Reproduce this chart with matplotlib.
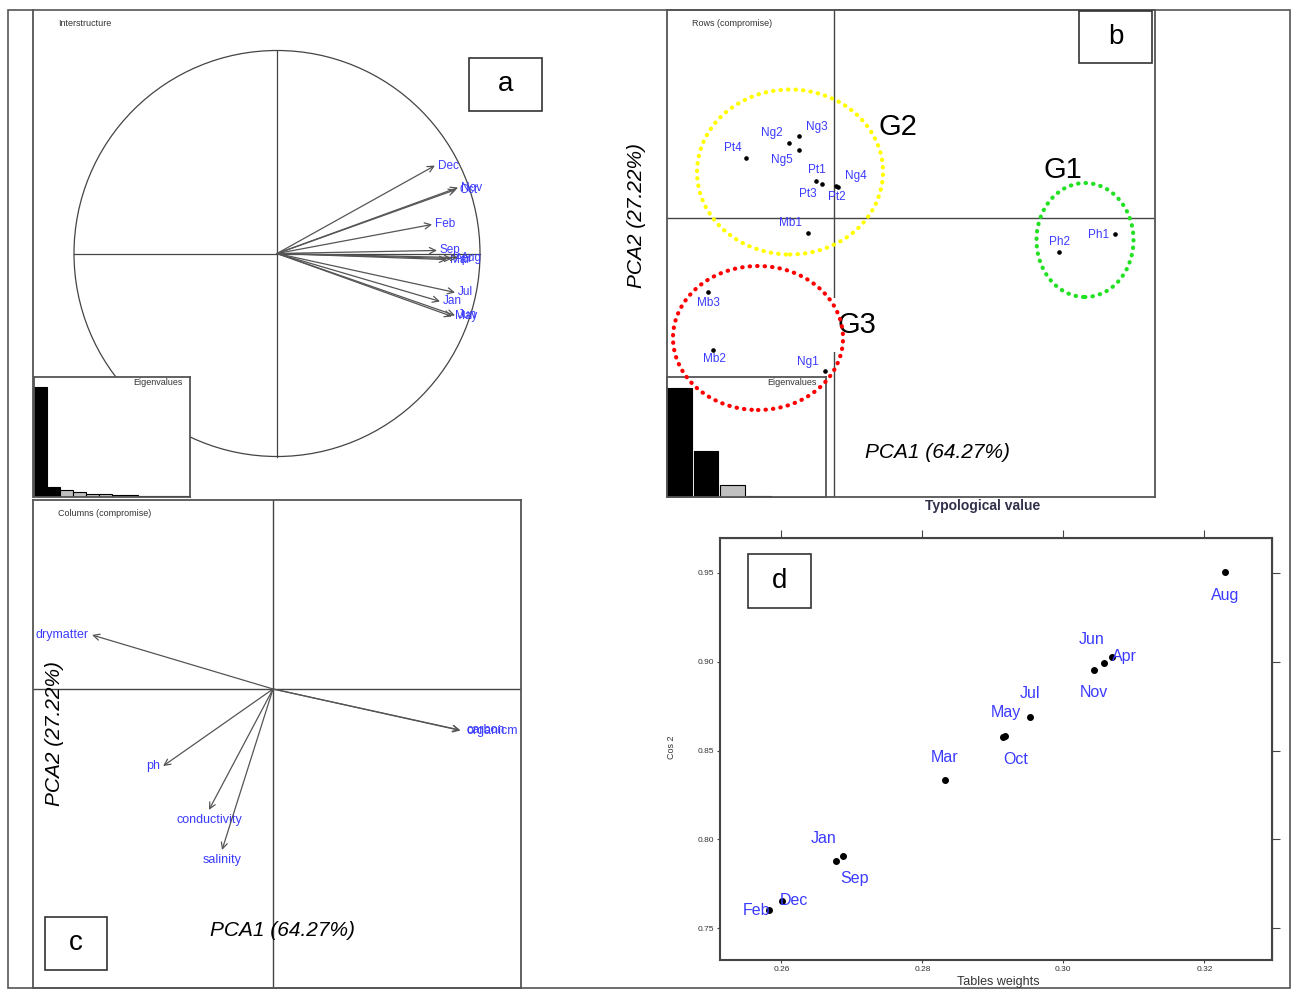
import matplotlib
matplotlib.use('Agg')
import matplotlib.pyplot as plt
from matplotlib.patches import Rectangle, Ellipse, Circle

plt.rcParams['font.family'] = ['Liberation Sans', 'DejaVu Sans']

# --- data ---
# a: interstructure (month vectors on the unit circle)
inter_names = ['Dec', 'Oct', 'Nov', 'Feb', 'Sep', 'Mar', 'Apr', 'Aug', 'Jul', 'Jan', 'May', 'Jun']
inter_x = [0.778, 0.882, 0.892, 0.764, 0.788, 0.837, 0.862, 0.892, 0.877, 0.803, 0.862, 0.877]
inter_y = [0.433, 0.315, 0.325, 0.143, 0.015, -0.030, -0.025, -0.020, -0.192, -0.236, -0.310, -0.305]
inter_eig = [110, 10, 7, 5, 3.5, 3.5, 2, 2, 1.2, 1, 0.8, 0.6]

# b: rows (compromise)
row_names = ['Ng3', 'Ng2', 'Ng5', 'Pt4', 'Pt1', 'Pt3', 'Ng4', 'Pt2', 'Mb1', 'Mb3', 'Mb2', 'Ng1', 'Ph1', 'Ph2']
row_x = [-0.35, -0.45, -0.35, -0.88, -0.18, -0.12, 0.02, 0.04, -0.26, -1.26, -1.21, -0.09, 2.81, 2.25]
row_y = [0.82, 0.75, 0.68, 0.60, 0.37, 0.34, 0.32, 0.31, -0.15, -0.74, -1.32, -1.53, -0.16, -0.34]
row_eig = [109, 46, 12, 1.5, 0.4, 0.2]

# c: columns (compromise)
col_names = ['drymatter', 'ph', 'conductivity', 'salinity', 'carbon', 'organicm']
col_x = [-0.754, -0.458, -0.267, -0.2125, 0.779, 0.781]
col_y = [0.225, -0.321, -0.504, -0.671, -0.171, -0.173]

# d: typological value
d_names = ['Aug', 'Apr', 'Jun', 'Nov', 'Jul', 'May', 'Oct', 'Mar', 'Sep', 'Jan', 'Dec', 'Feb']
d_weight = [0.3230, 0.3069, 0.3057, 0.3043, 0.2953, 0.2917, 0.2915, 0.2832, 0.2687, 0.2677, 0.2601, 0.2582]
d_cos2 = [0.9504, 0.9028, 0.8994, 0.8956, 0.8689, 0.8584, 0.8578, 0.8333, 0.7906, 0.7878, 0.7654, 0.7600]

# label placement (pixel offsets, image y downwards)
row_off = [(18, -9), (-17, -10), (-17, 10), (-13, -10), (1, -11), (-14, 10), (20, -10),
           (-1, 10), (-17, -10), (0, 11), (1, 9), (-17, -9), (-16, 1), (1, -10)]
d_off = [(0, 23), (12, 0), (-12, -23), (0, 23), (0, -23), (1, -23), (12, 23),
         (0, -23), (12, 23), (-12, -22), (12, 0), (-12, 0)]

W, H = 1296, 990
BLUE = '#3b3bff'
LINE = '#444444'

fig = plt.figure(figsize=(12.96, 9.9), dpi=100)


def rect(x0, y0, x1, y1):
	return [x0 / W, 1 - y1 / H, (x1 - x0) / W, (y1 - y0) / H]


def ftext(x, y, s, **kw):
	fig.text(x / W, 1 - y / H, s, **kw)


def letter_box(s, x0, y0, x1, y1):
	fig.add_artist(Rectangle((x0 / W, 1 - y1 / H), (x1 - x0) / W, (y1 - y0) / H,
		transform=fig.transFigure, facecolor='white', edgecolor='#333333', lw=1.2, zorder=5))
	ftext((x0 + x1) / 2, (y0 + y1) / 2, s, ha='center', va='center', fontsize=20, zorder=6)


def plain(ax, spines=('left', 'right', 'top', 'bottom')):
	ax.set_xticks([])
	ax.set_yticks([])
	for k, sp in ax.spines.items():
		sp.set_visible(k in spines)
		sp.set_color('#555555')
		sp.set_linewidth(1.3)


def eigen_inset(box, values, nblack, width):
	ax = fig.add_axes(rect(*box))
	plain(ax)
	cols = ['black' if i < nblack else '#c0c0c0' for i in range(len(values))]
	ax.bar(range(len(values)), values, width=width, align='edge', color=cols,
		edgecolor='black', linewidth=0.8)
	ax.set_xlim(0, len(values))
	ax.set_ylim(0, 120)
	return ax


# outer frame
fig.add_artist(Rectangle((8 / W, 1 - 988 / H), 1282 / W, 978 / H, transform=fig.transFigure,
	fill=False, edgecolor='#555555', lw=1.2))

# ---------- panel a ----------
ax_a = fig.add_axes(rect(33, 10, 521, 497))
plain(ax_a, spines=('left',))
ax_a.set_xlim(-244 / 203, 244 / 203)
ax_a.set_ylim(-243.5 / 203, 243.5 / 203)
ax_a.add_patch(Circle((0, 0), 1, fill=False, edgecolor=LINE, lw=0.9))
ax_a.plot([-1, 1], [0, 0], color=LINE, lw=0.9)
ax_a.plot([0, 0], [-1, 1], color=LINE, lw=0.9)
for name, x, y in zip(inter_names, inter_x, inter_y):
	ax_a.annotate('', xy=(x, y), xytext=(0, 0),
		arrowprops=dict(arrowstyle='->', color='#555555', lw=0.9, shrinkA=0, shrinkB=0, mutation_scale=11))
	ax_a.annotate(name, xy=(x, y), xytext=(3, 0), textcoords='offset pixels',
		ha='left', va='center', color=BLUE, fontsize=8.5)
ftext(58, 23, 'Interstructure', fontsize=6.5, color='#333333', va='center')
eigen_inset((34, 377, 190, 497), inter_eig, 2, 1.0)
ftext(183, 383, 'Eigenvalues', fontsize=6.5, color='#333333', ha='right', va='center')
letter_box('a', 469, 58, 542, 111)

# ---------- panel b ----------
ax_b = fig.add_axes(rect(667, 10, 1155, 497))
plain(ax_b)
ax_b.set_xlim(-1.67, 3.21)
ax_b.set_ylim(-2.79, 2.08)
ax_b.axhline(0, color=LINE, lw=1.0)
ax_b.axvline(0, color=LINE, lw=1.0)
ax_b.plot(row_x, row_y, 'o', color='black', ms=2.3)
for name, x, y, (dx, dy) in zip(row_names, row_x, row_y, row_off):
	ax_b.annotate(name, xy=(x, y), xytext=(dx, -dy), textcoords='offset pixels',
		ha='center', va='center', color=BLUE, fontsize=8.5)
ax_b.text(0.64, 0.91, 'G2', fontsize=21, ha='center', va='center')
ax_b.text(2.29, 0.48, 'G1', fontsize=21, ha='center', va='center')
ax_b.text(0.23, -1.07, 'G3', fontsize=21, ha='center', va='center',
	bbox=dict(facecolor='white', edgecolor='none', pad=9), zorder=4)
ftext(692, 23, 'Rows (compromise)', fontsize=6.5, color='#333333', va='center')
eigen_inset((667, 377, 826, 497), row_eig, 2, 0.93)
ftext(817, 383, 'Eigenvalues', fontsize=6.5, color='#333333', ha='right', va='center')
for (cx, cy, w, h, c) in [(-0.44, 0.46, 1.86, 1.65, '#ffff00'),
		(-0.76, -1.20, 1.70, 1.44, '#ff0000'),
		(2.51, -0.22, 0.97, 1.14, '#22e022')]:
	fig.add_artist(Ellipse((cx, cy), w, h, transform=ax_b.transData, fill=False,
		edgecolor=c, lw=3, linestyle=(0, (0.1, 1.7)), capstyle='round', zorder=8))
ftext(636, 215, 'PCA2 (27.22%)', fontsize=15, style='italic', rotation=90, ha='center', va='center')
ftext(937, 452, 'PCA1 (64.27%)', fontsize=15, style='italic', ha='center', va='center')
letter_box('b', 1079, 11, 1152, 63)

# ---------- panel c ----------
ax_c = fig.add_axes(rect(33, 500, 521, 988))
plain(ax_c)
ax_c.set_xlim(-1.0, 1.033)
ax_c.set_ylim(-1.246, 0.7875)
ax_c.axhline(0, color=LINE, lw=1.0)
ax_c.axvline(0, color=LINE, lw=1.0)
for name, x, y in zip(col_names, col_x, col_y):
	ax_c.annotate('', xy=(x, y), xytext=(0, 0),
		arrowprops=dict(arrowstyle='->', color='#555555', lw=0.9, shrinkA=0, shrinkB=0, mutation_scale=11))
	if abs(x) > abs(y):
		ha, va = ('left', 'center') if x > 0 else ('right', 'center')
		off = (6, 0) if x > 0 else (-3, 0)
	else:
		ha, va, off = 'center', 'top', (0, -4)
	t = ax_c.annotate(name, xy=(x, y), xytext=off, textcoords='offset pixels',
		ha=ha, va=va, color=BLUE, fontsize=9)
	t.set_clip_on(True)
ftext(58, 513, 'Columns (compromise)', fontsize=6.5, color='#333333', va='center')
ftext(54, 734, 'PCA2 (27.22%)', fontsize=15, style='italic', rotation=90, ha='center', va='center')
ftext(282, 930, 'PCA1 (64.27%)', fontsize=15, style='italic', ha='center', va='center')
letter_box('c', 45, 917, 107, 970)

# ---------- panel d ----------
ftext(983, 506, 'Typological value', fontsize=10, fontweight='bold', color='#30304a', ha='center', va='center')
ax_d = fig.add_axes(rect(720, 538, 1272, 960))
ax_d.set_xlim(0.2513, 0.3296)
ax_d.set_ylim(0.732, 0.9697)
for sp in ax_d.spines.values():
	sp.set_color(LINE)
	sp.set_linewidth(1.5)
xt = [0.26, 0.28, 0.30, 0.32]
yt = [0.75, 0.80, 0.85, 0.90, 0.95]
ax_d.set_xticks(xt)
ax_d.set_xticklabels(['%.2f' % v for v in xt])
ax_d.set_yticks(yt)
ax_d.set_yticklabels(['%.2f' % v for v in yt])
ax_d.tick_params(labelsize=6, length=2, color=LINE, labelcolor='#333333', pad=2)
secx = ax_d.secondary_xaxis('top')
secx.set_xticks(xt)
secx.set_xticklabels([])
secx.tick_params(length=6, color=LINE)
secy = ax_d.secondary_yaxis('right')
secy.set_yticks(yt)
secy.set_yticklabels([])
secy.tick_params(length=6, color=LINE)
ax_d.plot(d_weight, d_cos2, 'o', color='black', ms=4)
for name, x, y, (dx, dy) in zip(d_names, d_weight, d_cos2, d_off):
	ax_d.annotate(name, xy=(x, y), xytext=(dx, -dy), textcoords='offset pixels',
		ha='center', va='center', color=BLUE, fontsize=11.5)
ftext(998, 982, 'Tables weights', fontsize=9, color='#333333', ha='center', va='center')
ftext(672, 747, 'Cos 2', fontsize=6.5, color='#333333', rotation=90, ha='center', va='center')
letter_box('d', 748, 554, 811, 608)

fig.savefig('out.png', dpi=100)
